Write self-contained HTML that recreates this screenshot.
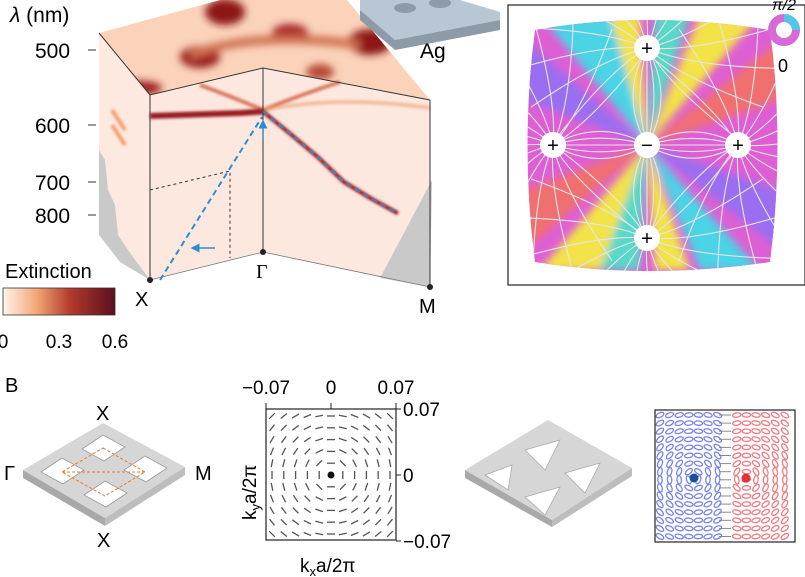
<!DOCTYPE html>
<html><head><meta charset="utf-8"><style>
body{margin:0;background:#fff}
svg{display:block;font-family:"Liberation Sans",sans-serif}
</style></head><body>
<svg id="fig" width="805" height="577" viewBox="0 0 805 577">
<defs>
<linearGradient id="cb" x1="0" x2="1"><stop offset="0" stop-color="#fff4ec"/><stop offset="0.3" stop-color="#f3a774"/><stop offset="0.6" stop-color="#b23a2a"/><stop offset="1" stop-color="#5a0f20"/></linearGradient>
<filter id="blur"><feGaussianBlur stdDeviation="4"/></filter>
<filter id="blur2"><feGaussianBlur stdDeviation="1.2"/></filter>
<clipPath id="topclip"><polygon points="99,33 220,0 347,0 430,100 263,68 150,95"/></clipPath>
<clipPath id="pillow"><path d="M535,30 Q647,10 770,30 Q785,145 770,262 Q647,280 535,262 Q520,145 535,30Z"/></clipPath>
<marker id="ar" markerWidth="6" markerHeight="6" refX="3" refY="3" orient="auto"><path d="M0,0L6,3L0,6Z" fill="#2a8fd0"/></marker>
</defs>

<g>
<polygon points="99,33 220,0 347,0 430,100 263,68 150,95" fill="#fad3ba"/>
<g clip-path="url(#topclip)" filter="url(#blur)">
<ellipse cx="225" cy="12" rx="20" ry="13" fill="#8e1518"/>
<ellipse cx="200" cy="57" rx="20" ry="11" fill="#9a1a1c"/>
<ellipse cx="290" cy="33" rx="18" ry="9" fill="#a8232a"/>
<ellipse cx="370" cy="42" rx="22" ry="13" fill="#8e1518"/>
<ellipse cx="140" cy="88" rx="22" ry="7" fill="#9a1a1c"/>
<ellipse cx="320" cy="72" rx="14" ry="8" fill="#b84a35"/>
<path d="M190,55 Q260,30 360,45" stroke="#d07050" stroke-width="9" fill="none"/>
</g>
<polygon points="99,33 150,95 150,280 125,255 105,230 99,215" fill="#fde9e0"/>
<polygon points="99,150 105,160 108,190 115,205 118,235 128,250 150,280 120,262 99,235" fill="#c9c9c9"/>
<polygon points="150,95 263,68 263,252 150,280" fill="#fde8e0"/>
<polygon points="263,68 430,100 430,287 263,252" fill="#fde8e0"/>
<polygon points="380,278 430,287 432,180" fill="#c9c9c9"/>
<g filter="url(#blur2)">
<path d="M200,85 Q235,98 263,110 Q300,95 340,82" stroke="#d06040" stroke-width="4" fill="none" opacity="0.8"/>
<path d="M263,110 Q340,95 430,108" stroke="#f0a070" stroke-width="4" fill="none" opacity="0.6"/>
<path d="M112,110 L125,130 M112,125 L125,145" stroke="#f08040" stroke-width="4" opacity="0.7"/>
</g>
<g id="bands" filter="url(#blur2)"></g>
<polyline points="99,33 150,95 263,68 430,100" fill="none" stroke="#333" stroke-width="1"/>
<line x1="150" y1="95" x2="150" y2="280" stroke="#333"/>
<line x1="263" y1="68" x2="263" y2="252" stroke="#333"/>
<line x1="430" y1="100" x2="430" y2="287" stroke="#333"/>
<polyline points="150,280 263,252 430,287" fill="none" stroke="#777" stroke-width="0.8"/>
<polyline points="150,190 230,171 230,258" fill="none" stroke="#333" stroke-dasharray="3,3"/>
<line x1="160" y1="280" x2="262" y2="117" stroke="#2a8fd0" stroke-width="2" stroke-dasharray="6,4"/>
<g id="bluedash"></g>
<line x1="215" y1="248" x2="195" y2="248" stroke="#2a8fd0" stroke-width="1.5" marker-end="url(#ar)"/>
<line x1="263" y1="140" x2="263" y2="124" stroke="#2a8fd0" stroke-width="1.5" marker-end="url(#ar)"/>
<circle cx="150" cy="280" r="3" fill="#222"/><circle cx="263" cy="252" r="3" fill="#222"/><circle cx="430" cy="287" r="3" fill="#222"/>
<text x="135" y="306" font-size="20">X</text>
<text x="256" y="278" font-size="20" font-family="Liberation Serif">Γ</text>
<text x="419" y="313" font-size="20">M</text>
<text x="10" y="22" font-size="21"><tspan font-style="italic">λ</tspan> (nm)</text>
<g id="yticks"></g>
</g>

<g>
<text x="5" y="278" font-size="20">Extinction</text>
<rect x="3" y="288" width="112" height="27" fill="url(#cb)" stroke="#333" stroke-width="0.8"/>
<g id="cbticks"></g>
</g>

<g>
<polygon points="360,0 460,0 500,12 500,20 395,40 360,10" fill="#b9c6d3"/>
<polygon points="360,10 395,40 500,20 500,30 395,50 360,20" fill="#8d9aa8"/>
<ellipse cx="405" cy="8" rx="11" ry="5" fill="#8d9aa8"/><ellipse cx="440" cy="3" rx="11" ry="5" fill="#8d9aa8"/>
<text x="420" y="58" font-size="21">Ag</text>
</g>

<g>
<rect x="508" y="5" width="297" height="280" fill="none" stroke="#222" stroke-width="1.2"/>
<g clip-path="url(#pillow)">
<rect x="510" y="8" width="290" height="275" fill="#de5fd4"/>
<g filter="url(#blur)">
<polygon points="540,15 610,15 647,145" fill="#4cd3e6"/>
<polygon points="610,15 640,15 647,145" fill="#f2e34a"/>
<polygon points="655,15 690,15 647,145" fill="#58d8c8"/>
<polygon points="700,15 760,15 647,145" fill="#f2e34a"/>
<polygon points="540,270 600,270 647,145" fill="#f2e34a"/>
<polygon points="600,270 640,270 647,145" fill="#58d8c8"/>
<polygon points="655,270 690,270 647,145" fill="#f2e34a"/>
<polygon points="700,270 760,270 647,145" fill="#4cd3e6"/>
<polygon points="525,40 525,100 647,145" fill="#9a6ef0"/>
<polygon points="780,190 780,250 647,145" fill="#9a6ef0"/>
<polygon points="525,190 525,250 647,145" fill="#f07070"/>
<polygon points="780,40 780,100 647,145" fill="#f07070"/>
</g>
<g id="streams" stroke="#e6e6e6" stroke-width="1.1" fill="none"></g>
</g>
<g id="charges"></g>
<circle cx="784" cy="30" r="12" fill="none" stroke="#d66ad6" stroke-width="8"/>
<path d="M784,18 A12,12 0 0,1 796,30" fill="none" stroke="#52c8e8" stroke-width="8"/>
<text x="778" y="72" font-size="18">0</text>
<text x="772" y="10" font-size="16" font-style="italic">π/2</text>
</g>

<text x="5" y="392" font-size="20">B</text>
<g>
<polygon points="23,470 23,478 105,526 105,518" fill="#a9a9a9"/>
<polygon points="105,518 105,526 185,475 185,467" fill="#bdbdbd"/>
<polygon points="103,423 185,467 105,518 23,470" fill="#d6d6d6"/>
<g fill="#fff" stroke="#999" stroke-width="0.8">
<polygon points="103,435 125,447 104,461 82,449"/>
<polygon points="62,458 84,470 63,484 41,472"/>
<polygon points="145,456 167,468 146,482 124,470"/>
<polygon points="105,481 127,493 106,507 84,495"/>
</g>
<polygon points="103,448 145,472 105,496 62,472" fill="none" stroke="#e87a30" stroke-dasharray="3,2"/>
<line x1="62" y1="472" x2="145" y2="472" stroke="#e87a30" stroke-dasharray="3,2"/>
<text x="96" y="420" font-size="20">X</text><text x="97" y="547" font-size="20">X</text>
<text x="4" y="480" font-size="20">Γ</text><text x="195" y="480" font-size="20">M</text>
</g>
<g>
<rect x="266" y="409" width="130" height="131" fill="#fff" stroke="#222" stroke-width="1.2"/>
<g id="field" stroke="#555" stroke-width="1.3"></g>
<circle cx="331" cy="475" r="3.5" fill="#111"/>
<g id="vticks"></g>
<text x="300" y="572" font-size="19">k<tspan font-size="13" dy="4">x</tspan><tspan dy="-4">a/2π</tspan></text>
<text transform="translate(256,520) rotate(-90)" font-size="19">k<tspan font-size="13" dy="4">y</tspan><tspan dy="-4">a/2π</tspan></text>
</g>
<g>
<polygon points="465,470 465,478 552,527 552,520" fill="#a9a9a9"/>
<polygon points="552,520 552,527 632,476 632,468" fill="#bdbdbd"/>
<polygon points="465,470 548,420 632,468 552,520" fill="#d6d6d6"/>
<g fill="#fff" stroke="#aaa" stroke-width="0.8">
<polygon points="525,450 560,440 545,470"/>
<polygon points="565,473 600,463 585,493"/>
<polygon points="485,475 512,465 508,490"/>
<polygon points="525,497 560,487 545,515"/>
</g>
</g>
<g>
<rect x="655" y="410" width="140" height="132" fill="#fff" stroke="#222" stroke-width="1.2"/>
<g id="spin" stroke-width="1.3" fill="none"></g>
<circle cx="694" cy="478" r="4.5" fill="#1d4e9a"/><circle cx="746" cy="478" r="4.5" fill="#e0303a"/>
</g>
</svg>
<script>
const NS='http://www.w3.org/2000/svg';
function mk(t,a,p){const e=document.createElementNS(NS,t);for(const k in a)e.setAttribute(k,a[k]);p.appendChild(e);return e;}
const wlTicks=[500,600,700,800];
const wlPix=[50,125,182,215];
const cbTicks=[0,0.3,0.6];
const kTicks=[-0.07,0,0.07];
const kFrac=[0,0.2,0.4,0.6,0.8,1.0];
const bandLeft=[588,587,586,585,584,582];
const bandRight=[582,615,655,700,750,795];
function wlY(w){
 for(let i=0;i<wlTicks.length-1;i++){if(w<=wlTicks[i+1]){const f=(w-wlTicks[i])/(wlTicks[i+1]-wlTicks[i]);return wlPix[i]+f*(wlPix[i+1]-wlPix[i]);}}
 return wlPix[wlPix.length-1];}
const yt=document.getElementById('yticks');
wlTicks.forEach((w,i)=>{const t=mk('text',{x:35,y:wlY(w)+8,'font-size':21},yt);t.textContent=w;
 
 
 mk('line',{x1:88,y1:wlY(w),x2:96,y2:wlY(w),stroke:'#333'},yt);});
const bg=document.getElementById('bands');
function bandPts(arr,x0,x1){return arr.map((w,i)=>{const x=x0+kFrac[i]*(x1-x0);return [x,wlY(w)];});}
const lp=bandPts(bandLeft,150,263),rp=bandPts(bandRight,263,398);
[[lp,'band-left',6],[rp,'band-right',4]].forEach(([p,n,w])=>{
 const pl=mk('path',{d:'M'+p.map(q=>q.join(',')).join(' L'),fill:'none',stroke:'#9a1f22','stroke-width':w,'stroke-linejoin':'round'},bg);
 
 });
const bd=document.getElementById('bluedash');
mk('polyline',{points:rp.map(q=>q.join(',')).join(' '),fill:'none',stroke:'#2a8fd0','stroke-width':1.6,'stroke-dasharray':'6,4'},bd);
const cbt=document.getElementById('cbticks');
cbTicks.forEach((v,i)=>{const x=3+v/0.6*112;const t=mk('text',{x:x,y:348,'font-size':19,'text-anchor':'middle'},cbt);t.textContent=v;
 
 });
const fg=document.getElementById('field');
const n=11;
for(let i=0;i<n;i++)for(let j=0;j<n;j++){const x=272+i*11.8,y=416+j*11.8;const dx=x-331,dy=y-475;if(Math.abs(dx)<3&&Math.abs(dy)<3)continue;
 const a=Math.atan2(dy,dx)+Math.PI/2;const L=4;mk('line',{x1:x-L*Math.cos(a),y1:y-L*Math.sin(a),x2:x+L*Math.cos(a),y2:y+L*Math.sin(a)},fg);}
const vt=document.getElementById('vticks');
kTicks.forEach(v=>{const x=331+v/0.07*65, y=475-v/0.07*66;
 let t=mk('text',{x:x,y:394,'font-size':19,'text-anchor':'middle'},vt);t.textContent=v===0?'0':(v<0?'−':'')+Math.abs(v);
 
 
 mk('line',{x1:x,y1:409,x2:x,y2:403,stroke:'#222'},vt);
 t=mk('text',{x:403,y:y+7,'font-size':19},vt);t.textContent=v===0?'0':(v<0?'−':'')+Math.abs(v);
 
 
 mk('line',{x1:396,y1:y,x2:401,y2:y,stroke:'#222'},vt);});
const sg=document.getElementById('streams');
const centers=[[647,48],[553,145],[738,145],[647,238]];
centers.forEach(c=>{const ox=c[0]-647,oy=c[1]-145;const base=Math.atan2(oy,ox);
 for(let k=0;k<16;k++){const a=base+(k-7.5)/16*Math.PI*1.6;
  const ex=c[0]+130*Math.cos(a),ey=c[1]+130*Math.sin(a);
  const mx=c[0]+45*Math.cos(a+0.25),my=c[1]+45*Math.sin(a+0.25);
  mk('path',{d:`M${c[0]},${c[1]} Q${mx},${my} ${ex},${ey}`},sg);}
 for(let k=0;k<5;k++){const s=(k-2)*14;const px=-oy/97,py=ox/97;
  mk('path',{d:`M${c[0]},${c[1]} Q${(c[0]+647)/2+px*s},${(c[1]+145)/2+py*s} 647,145`},sg);}});
const cg=document.getElementById('charges');
[[647,48,'+'],[553,145,'+'],[647,145,'−'],[738,145,'+'],[647,238,'+']].forEach(c=>{
 const g=mk('g',{},cg);
 
 
 mk('circle',{cx:c[0],cy:c[1],r:13,fill:'#fff'},g);const t=mk('text',{x:c[0],y:c[1]+7,'font-size':20,'text-anchor':'middle'},g);t.textContent=c[2];});
const sp=document.getElementById('spin');
for(let i=0;i<14;i++)for(let j=0;j<16;j++){const x=660+i*9.6,y=415+j*8.1;const left=x<722;if(Math.abs(x-725)<4)continue;const col=left?'#7783e8':'#f07a80';
 const cx=left?694:746;const a=Math.atan2(y-478,x-cx)*180/Math.PI+90;
 mk('ellipse',{cx:x,cy:y,rx:4.2,ry:2.2,stroke:col,transform:`rotate(${a} ${x} ${y})`},sp);}
for(let j=0;j<16;j++){const y=415+j*8.1;mk('line',{x1:719,y1:y,x2:731,y2:y,stroke:'#888','stroke-width':1},sp);}
</script>
</body></html>
